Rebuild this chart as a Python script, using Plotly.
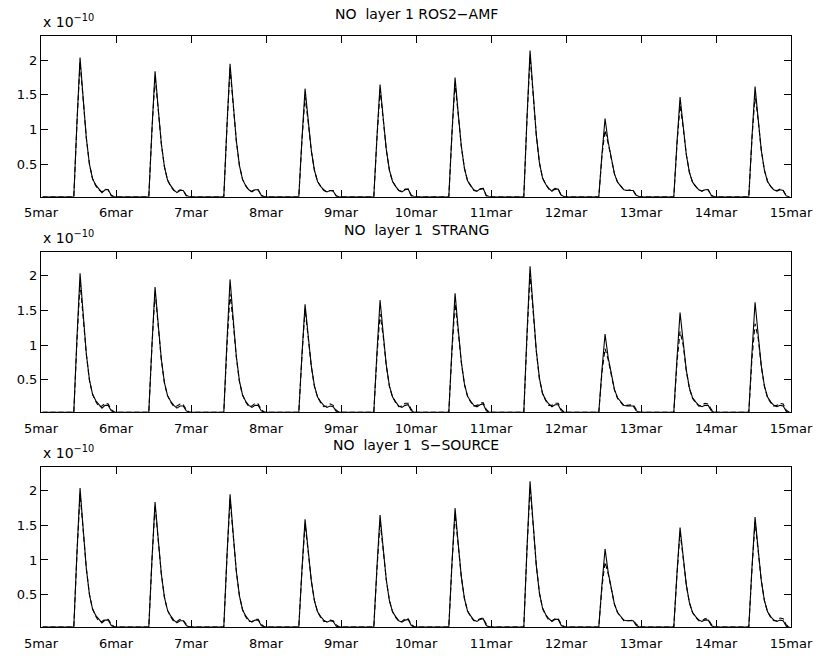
import plotly.graph_objects as go

# NO concentration, layer 1, in units of 1e-10
day_labels = ["5mar", "6mar", "7mar", "8mar", "9mar", "10mar",
              "11mar", "12mar", "13mar", "14mar", "15mar"]
day_start = 5
hours = [10.5, 11.5, 12.5, 13.5, 14.5, 15.5, 16.5,
         17.5, 18.5, 19.5, 20.5, 21.5, 22.5, 23.5]
night = 0.03

# reference solution (solid line, same in every panel)
ref_no = [
    [0.03, 1.10, 2.04, 1.45, 0.88, 0.50, 0.29, 0.20, 0.14, 0.09, 0.13, 0.13, 0.05, 0.03],
    [0.03, 1.00, 1.84, 1.31, 0.80, 0.46, 0.27, 0.19, 0.13, 0.09, 0.12, 0.12, 0.05, 0.03],
    [0.03, 1.05, 1.95, 1.38, 0.84, 0.48, 0.28, 0.19, 0.13, 0.10, 0.13, 0.13, 0.05, 0.03],
    [0.03, 0.86, 1.59, 1.14, 0.70, 0.41, 0.25, 0.18, 0.13, 0.10, 0.12, 0.11, 0.04, 0.03],
    [0.03, 0.89, 1.65, 1.17, 0.71, 0.41, 0.25, 0.18, 0.12, 0.10, 0.13, 0.14, 0.05, 0.03],
    [0.03, 0.95, 1.75, 1.24, 0.76, 0.44, 0.26, 0.19, 0.13, 0.11, 0.14, 0.15, 0.05, 0.03],
    [0.03, 1.15, 2.14, 1.52, 0.92, 0.52, 0.30, 0.21, 0.15, 0.11, 0.14, 0.14, 0.05, 0.03],
    [0.03, 0.64, 1.16, 0.82, 0.56, 0.36, 0.24, 0.18, 0.13, 0.12, 0.12, 0.12, 0.05, 0.03],
    [0.03, 0.80, 1.47, 1.05, 0.64, 0.38, 0.24, 0.18, 0.13, 0.11, 0.13, 0.13, 0.05, 0.03],
    [0.03, 0.88, 1.62, 1.15, 0.70, 0.41, 0.25, 0.18, 0.13, 0.11, 0.13, 0.12, 0.04, 0.03],
]

# splitting methods (dashed line)
amf_no = [
    [0.03, 1.08, 1.97, 1.43, 0.88, 0.50, 0.29, 0.19, 0.13, 0.10, 0.14, 0.13, 0.04, 0.03],
    [0.03, 0.98, 1.76, 1.29, 0.80, 0.46, 0.27, 0.18, 0.12, 0.10, 0.13, 0.12, 0.04, 0.03],
    [0.03, 1.03, 1.88, 1.36, 0.84, 0.48, 0.28, 0.19, 0.12, 0.11, 0.14, 0.13, 0.04, 0.03],
    [0.03, 0.84, 1.47, 1.11, 0.69, 0.41, 0.25, 0.18, 0.12, 0.10, 0.12, 0.12, 0.04, 0.03],
    [0.03, 0.87, 1.57, 1.15, 0.71, 0.41, 0.25, 0.18, 0.12, 0.11, 0.14, 0.14, 0.04, 0.03],
    [0.03, 0.93, 1.67, 1.22, 0.76, 0.44, 0.26, 0.19, 0.12, 0.11, 0.14, 0.15, 0.04, 0.03],
    [0.03, 1.13, 2.05, 1.50, 0.92, 0.52, 0.30, 0.21, 0.14, 0.12, 0.15, 0.14, 0.04, 0.03],
    [0.03, 0.62, 0.99, 0.80, 0.55, 0.36, 0.24, 0.18, 0.13, 0.12, 0.13, 0.12, 0.04, 0.03],
    [0.03, 0.78, 1.35, 1.03, 0.64, 0.38, 0.24, 0.18, 0.13, 0.11, 0.14, 0.13, 0.04, 0.03],
    [0.03, 0.86, 1.50, 1.13, 0.70, 0.41, 0.25, 0.18, 0.13, 0.12, 0.14, 0.12, 0.04, 0.03],
]
strang_no = [
    [0.03, 1.05, 1.90, 1.40, 0.87, 0.49, 0.29, 0.19, 0.11, 0.12, 0.16, 0.15, 0.07, 0.03],
    [0.03, 0.98, 1.78, 1.28, 0.79, 0.45, 0.27, 0.18, 0.11, 0.12, 0.15, 0.14, 0.07, 0.03],
    [0.03, 0.98, 1.74, 1.33, 0.83, 0.47, 0.28, 0.18, 0.11, 0.12, 0.16, 0.15, 0.07, 0.03],
    [0.03, 0.84, 1.52, 1.11, 0.69, 0.40, 0.25, 0.17, 0.11, 0.12, 0.15, 0.13, 0.06, 0.03],
    [0.03, 0.84, 1.45, 1.13, 0.70, 0.40, 0.25, 0.17, 0.11, 0.12, 0.16, 0.16, 0.07, 0.03],
    [0.03, 0.90, 1.60, 1.20, 0.75, 0.43, 0.26, 0.18, 0.12, 0.13, 0.16, 0.17, 0.07, 0.03],
    [0.03, 1.10, 2.03, 1.48, 0.91, 0.51, 0.30, 0.20, 0.13, 0.13, 0.16, 0.16, 0.07, 0.03],
    [0.03, 0.60, 0.95, 0.79, 0.55, 0.35, 0.23, 0.17, 0.12, 0.13, 0.14, 0.14, 0.07, 0.03],
    [0.03, 0.74, 1.20, 1.00, 0.63, 0.37, 0.23, 0.17, 0.12, 0.13, 0.16, 0.15, 0.07, 0.03],
    [0.03, 0.80, 1.31, 1.10, 0.69, 0.40, 0.24, 0.17, 0.12, 0.13, 0.16, 0.15, 0.06, 0.03],
]
ssource_no = [
    [0.03, 1.08, 1.96, 1.43, 0.88, 0.50, 0.29, 0.19, 0.11, 0.11, 0.14, 0.14, 0.07, 0.03],
    [0.03, 0.99, 1.79, 1.29, 0.80, 0.46, 0.27, 0.18, 0.11, 0.11, 0.14, 0.13, 0.07, 0.03],
    [0.03, 1.03, 1.88, 1.36, 0.84, 0.48, 0.28, 0.18, 0.11, 0.11, 0.14, 0.14, 0.07, 0.03],
    [0.03, 0.84, 1.52, 1.12, 0.70, 0.41, 0.25, 0.17, 0.11, 0.11, 0.13, 0.12, 0.06, 0.03],
    [0.03, 0.86, 1.55, 1.15, 0.71, 0.41, 0.25, 0.17, 0.11, 0.11, 0.15, 0.15, 0.07, 0.03],
    [0.03, 0.93, 1.66, 1.22, 0.76, 0.44, 0.26, 0.18, 0.12, 0.12, 0.15, 0.16, 0.07, 0.03],
    [0.03, 1.13, 2.05, 1.50, 0.92, 0.52, 0.30, 0.20, 0.13, 0.12, 0.15, 0.15, 0.07, 0.03],
    [0.03, 0.61, 0.97, 0.80, 0.56, 0.36, 0.24, 0.17, 0.12, 0.12, 0.13, 0.13, 0.07, 0.03],
    [0.03, 0.78, 1.40, 1.03, 0.64, 0.38, 0.24, 0.17, 0.12, 0.12, 0.15, 0.14, 0.07, 0.03],
    [0.03, 0.86, 1.55, 1.13, 0.70, 0.41, 0.25, 0.17, 0.12, 0.12, 0.16, 0.15, 0.06, 0.03],
]

titles = ["NO  layer 1 ROS2\u2212AMF", "NO  layer 1  STRANG", "NO  layer 1  S\u2212SOURCE"]
methods = [amf_no, strang_no, ssource_no]


def to_series(profiles):
    t, v = [], []
    for d, prof in enumerate(profiles):
        t.append(day_start + d + 0.5 / 24)
        v.append(night)
        for h, val in zip(hours, prof):
            t.append(day_start + d + h / 24)
            v.append(val)
    return t, v


FONT = "DejaVu Sans"
domains = [[0.728, 1.0], [0.3633, 0.635], [0.0, 0.2712]]

fig = go.Figure()
ref_t, ref_v = to_series(ref_no)
annotations = []
for i, (title, data) in enumerate(zip(titles, methods)):
    sfx = "" if i == 0 else str(i + 1)
    t, v = to_series(data)
    fig.add_trace(go.Scatter(x=ref_t, y=ref_v, mode="lines", xaxis="x" + sfx, yaxis="y" + sfx,
                             line=dict(color="black", width=1.1), showlegend=False))
    fig.add_trace(go.Scatter(x=t, y=v, mode="lines", xaxis="x" + sfx, yaxis="y" + sfx,
                             line=dict(color="black", width=1.1, dash="5px,3px"), showlegend=False))
    axis_common = dict(showline=True, linecolor="black", linewidth=1, mirror="ticks",
                       ticks="inside", ticklen=7, tickcolor="black", tickwidth=1,
                       showgrid=False, zeroline=False, automargin=False,
                       tickfont=dict(family=FONT, size=13, color="black"))
    fig.update_layout({
        "xaxis" + sfx: dict(axis_common, anchor="y" + sfx, domain=[0, 1], range=[5, 15],
                            tickvals=list(range(5, 16)), ticktext=day_labels,
                            ticklabelstandoff=4),
        "yaxis" + sfx: dict(axis_common, anchor="x" + sfx, domain=domains[i], range=[0.03, 2.35],
                            tickvals=[0.5, 1, 1.5, 2], ticktext=["0.5", "1", "1.5", "2"]),
    })
    annotations.append(dict(text=title, x=0.5, y=domains[i][1], xref="paper", yref="paper",
                            xanchor="center", yanchor="bottom", yshift=12, showarrow=False,
                            font=dict(family=FONT, size=14, color="black")))
    annotations.append(dict(text="x 10<sup>\u221210</sup>", x=0, y=domains[i][1], xref="paper",
                            yref="paper", xanchor="left", yanchor="bottom", yshift=4,
                            showarrow=False, font=dict(family=FONT, size=14, color="black")))

fig.update_layout(width=820, height=656, margin=dict(l=41, r=29, t=36, b=29),
                  paper_bgcolor="white", plot_bgcolor="white",
                  annotations=annotations, font=dict(family=FONT, color="black"))
fig.write_html("out.html", config={"displayModeBar": False},
               post_script="document.body.style.margin='0px';")
